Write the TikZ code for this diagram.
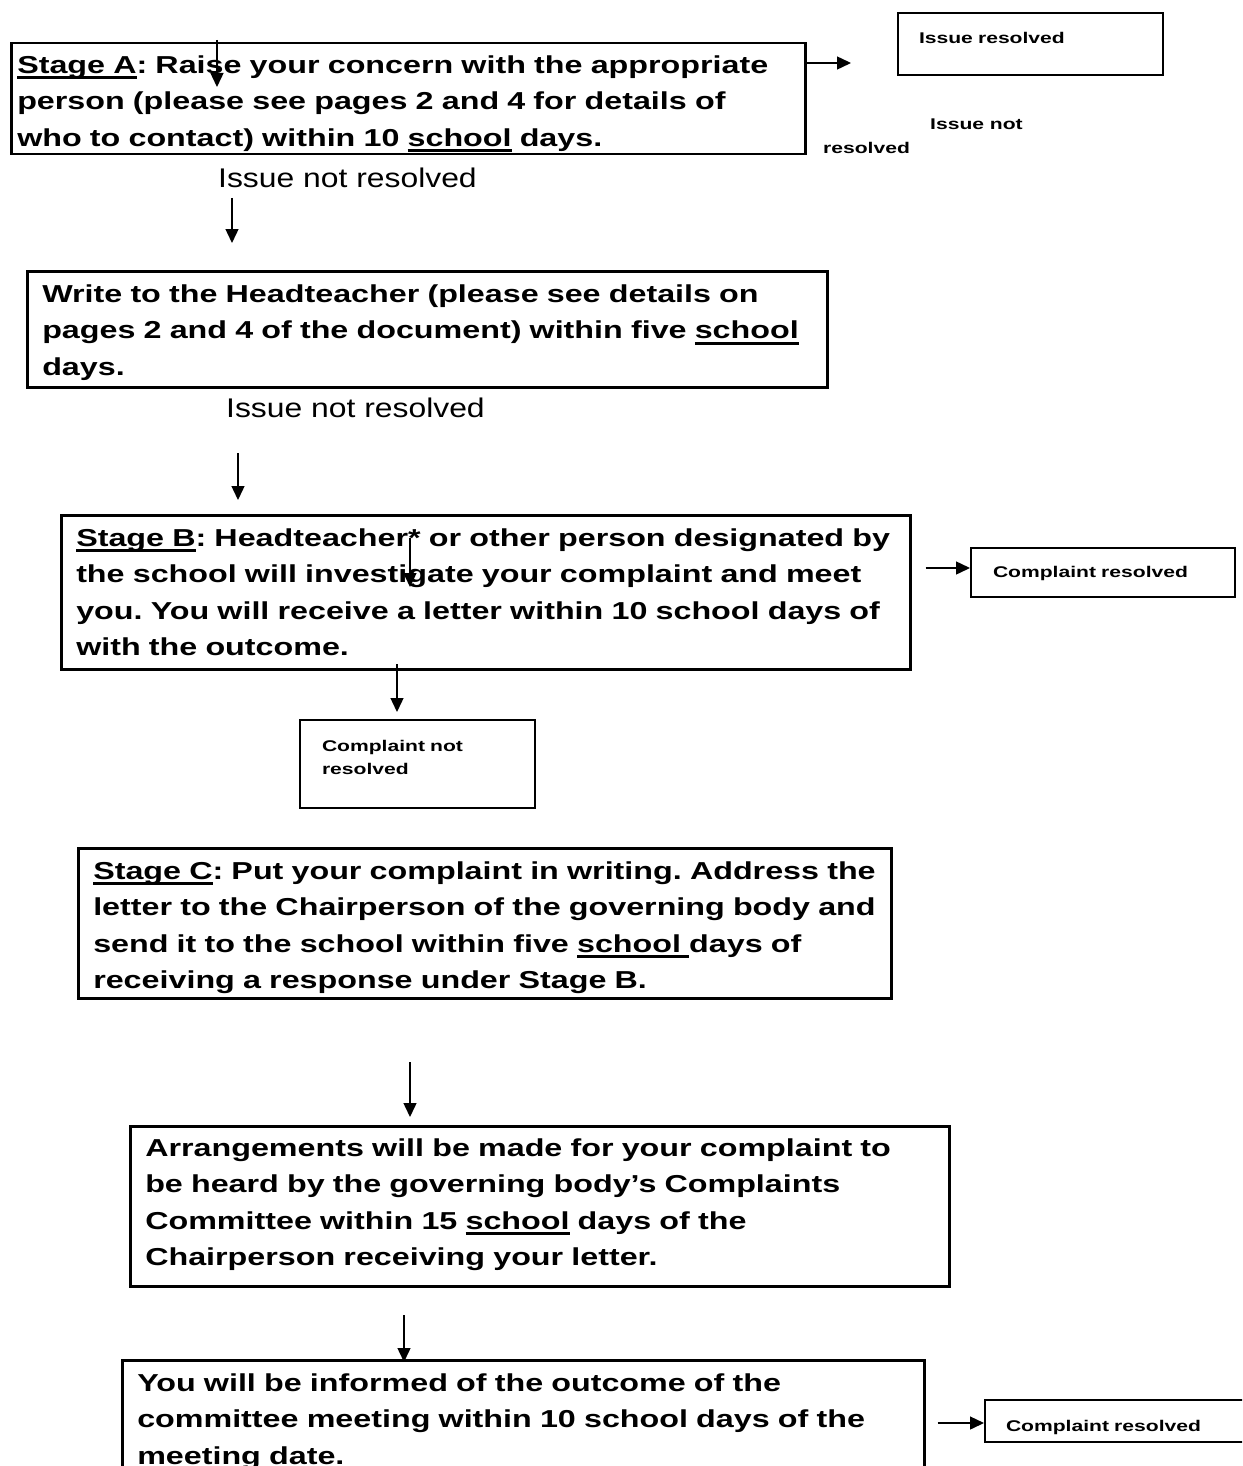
\documentclass[tikz,border=0pt]{standalone}
\usepackage{fontspec}
\setmainfont{Liberation Sans}
\newfontfamily\widesans[FakeStretch=1.317]{Liberation Sans}
\newfontfamily\plainsans[FakeStretch=1.18]{Liberation Sans}
\newfontfamily\smallsans[FakeStretch=1.36]{Liberation Sans}
\usetikzlibrary{arrows.meta}
\frenchspacing
\newcommand\myul[1]{\leavevmode\setbox0\hbox{#1}\rlap{\rule[-6pt]{\wd0}{2.8pt}}\box0\relax}
\tikzset{
  bigbox/.style={draw, line width=2.5pt, anchor=north west, inner ysep=0pt, align=left,
    font=\widesans\bfseries\fontsize{24.5}{36.5}\selectfont\frenchspacing},
  smallbox/.style={draw, line width=2pt, anchor=north west, inner ysep=0pt, align=left,
    font=\smallsans\bfseries\fontsize{15.5}{23}\selectfont},
  plainlabel/.style={anchor=base west, inner sep=0pt, font=\plainsans\fontsize{27}{30}\selectfont},
  smalllabel/.style={anchor=base west, inner sep=0pt, font=\smallsans\bfseries\fontsize{15.5}{23}\selectfont},
  arr/.style={line width=1.4pt, -{Triangle[length=14pt,width=13pt]}}
}
\begin{document}
\begin{tikzpicture}[x=1pt,y=-1pt]
\useasboundingbox (0,0) rectangle (1242,1466);
\clip (0,0) rectangle (1242,1466);
\fill[white] (0,0) rectangle (1242,1466);

% boxes
\node[bigbox, inner xsep=6pt, text width=782pt, text height=30pt, text depth=81pt] (A) at (10,42)
 {\mbox{\myul{Stage A}: Raise your concern with the appropriate}\\
  \mbox{person (please see pages 2 and 4 for details of}\\
  \mbox{who to contact) within 10 \myul{school} days.}};

\node[smallbox, inner xsep=21pt, text width=223pt, text height=31pt, text depth=31pt] (IR) at (897,12)
 {Issue resolved};

\node[bigbox, inner xsep=15pt, text width=770pt, text height=31pt, text depth=85pt] (W) at (26,270)
 {\mbox{Write to the Headteacher (please see details on}\\
  \mbox{pages 2 and 4 of the document) within five \myul{school}}\\
  \mbox{days.}};

\node[bigbox, inner xsep=15pt, text width=819pt, text height=31pt, text depth=123pt] (B) at (60,514)
 {\mbox{\myul{Stage B}: Headteacher* or other person designated by}\\
  \mbox{the school will investigate your complaint and meet}\\
  \mbox{you. You will receive a letter within 10 school days of}\\
  \mbox{with the outcome.}};

\node[smallbox, inner xsep=22pt, text width=220pt, text height=29pt, text depth=20pt] (CRB) at (970,547)
 {Complaint resolved};

\node[smallbox, inner xsep=22pt, text width=191pt, text height=31pt, text depth=57pt] (CNR) at (299,719)
 {Complaint not\\resolved};

\node[bigbox, inner xsep=15pt, text width=783pt, text height=31pt, text depth=119pt] (C) at (77,847)
 {\mbox{\myul{Stage C}: Put your complaint in writing. Address the}\\
  \mbox{letter to the Chairperson of the governing body and}\\
  \mbox{send it to the school within five \myul{school }days of}\\
  \mbox{receiving a response under Stage B.}};

\node[bigbox, inner xsep=15pt, text width=789pt, text height=30pt, text depth=130pt] (AR) at (129,1125)
 {\mbox{Arrangements will be made for your complaint to}\\
  \mbox{be heard by the governing body’s Complaints}\\
  \mbox{Committee within 15 \myul{school} days of the}\\
  \mbox{Chairperson receiving your letter.}};

\node[bigbox, inner xsep=15pt, text width=772pt, text height=31pt, text depth=100pt] (F) at (121,1359)
 {\mbox{You will be informed of the outcome of the}\\
  \mbox{committee meeting within 10 school days of the}\\
  \mbox{meeting date.}};

\node[smallbox, inner xsep=21pt, text width=234pt, text height=31pt, text depth=11pt] (CRF) at (984,1399)
 {Complaint resolved};

% free labels
\node[plainlabel] (L1) at (218,188) {Issue not resolved};
\node[plainlabel] (L2) at (226,417) {Issue not resolved};
\node[smalllabel] (L3) at (930,130) {Issue not};
\node[smalllabel] (L4) at (823,154) {resolved};

% arrow coordinates
\coordinate (a1s) at (217,40);   \coordinate (a1e) at (217,87);
\coordinate (a3s) at (232,198);  \coordinate (a3e) at (232,243);
\coordinate (a4s) at (238,453);  \coordinate (a4e) at (238,500);
\coordinate (a5s) at (410,538);  \coordinate (a5e) at (410,587);
\coordinate (a7s) at (397,664);  \coordinate (a7e) at (397,712);
\coordinate (a8s) at (410,1062); \coordinate (a8e) at (410,1117);
\coordinate (a9s) at (404,1315);
\coordinate (a2e) at (851,63);

\draw[arr] (a1s) -- (a1e);
\draw[arr] (A.east |- a2e) -- (a2e);
\draw[arr] (a3s) -- (a3e);
\draw[arr] (a4s) -- (a4e);
\draw[arr] (a5s) -- (a5e);
\draw[arr] ([xshift=14pt]B.east |- CRB.west) ++(0,-4.5) -- ([yshift=4.5pt]CRB.west);
\draw[arr] (a7s) -- (a7e);
\draw[arr] (a8s) -- (a8e);
\draw[arr] (a9s) -- ([yshift=-3pt]a9s |- F.north);
\draw[arr] ([xshift=12pt]F.east |- CRF.west) ++(0,2) -- ([yshift=-2pt]CRF.west);
\end{tikzpicture}
\end{document}
